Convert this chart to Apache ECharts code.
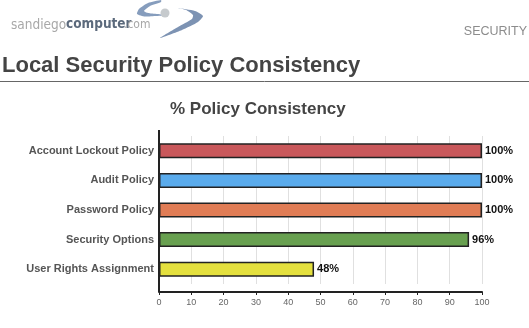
<!DOCTYPE html>
<html>
<head>
<meta charset="utf-8">
<script src="https://cdn.jsdelivr.net/npm/echarts@6/dist/echarts.min.js"></script>
<style>
html,body{margin:0;padding:0;background:#fff;}
#chart{width:529px;height:328px;}
</style>
</head>
<body>
<div id="chart"></div>
<script>
var categories = ['Account Lockout Policy', 'Audit Policy', 'Password Policy', 'Security Options', 'User Rights Assignment'];
var consistency = [100, 100, 100, 96, 48];
var barColors = ['#c9585b', '#5aabec', '#e07c55', '#68a050', '#e4e03e'];
var xTicks = [0, 100, 10];

var myChart = echarts.init(document.getElementById('chart'));

var barData = [];
for (var i = 0; i < consistency.length; i++) {
	barData.push({value: consistency[i], itemStyle: {color: barColors[i]}});
}

var option = {
	backgroundColor: '#fff',
	animation: false,
	title: {
		text: '% Policy Consistency',
		left: 170,
		top: 101,
		padding: 0,
		textStyle: {fontFamily: 'Liberation Sans', fontSize: 17, fontWeight: 'bold', color: '#444'}
	},
	grid: {left: 159, right: 47, top: 136, height: 148, containLabel: false},
	xAxis: {
		type: 'value',
		min: xTicks[0],
		max: xTicks[1],
		interval: xTicks[2],
		offset: 8,
		axisLine: {show: true, lineStyle: {color: '#222', width: 2}},
		axisTick: {show: true, length: 3, lineStyle: {color: '#222'}},
		axisLabel: {fontFamily: 'Liberation Sans', fontSize: 9, color: '#666', margin: 6},
		splitLine: {show: true, lineStyle: {color: '#e0e0e0', width: 1}}
	},
	yAxis: {
		type: 'category',
		inverse: true,
		data: categories,
		axisLine: {show: false},
		axisTick: {show: false},
		axisLabel: {fontFamily: 'Liberation Sans', fontSize: 11, fontWeight: 'bold', color: '#555', margin: 5}
	},
	series: [{
		type: 'bar',
		data: barData,
		barWidth: 15,
		itemStyle: {borderColor: '#222', borderWidth: 1.5},
		label: {
			show: true,
			position: 'right',
			distance: 3,
			formatter: '{c}%',
			fontFamily: 'Liberation Sans',
			fontSize: 11,
			fontWeight: 'bold',
			color: '#111'
		}
	}],
	graphic: [
		// page header: logo
		{type: 'text', left: 11, top: 18, style: {text: 'sandiego', fontFamily: 'DejaVu Sans Condensed', fontSize: 13.5, fill: '#a8a8a8'}},
		{type: 'text', left: 66, top: 17, style: {text: 'computer', fontFamily: 'DejaVu Sans Condensed', fontSize: 13.5, fontWeight: 'bold', fill: '#5c6a7c'}},
		{type: 'text', left: 124, top: 19, style: {text: '.com', fontFamily: 'DejaVu Sans Condensed', fontSize: 12, fill: '#a8a8a8'}},
		{type: 'polygon', shape: {points: [[161, 0], [148, 3], [139, 9], [137, 14], [145, 16.5], [166, 15], [148, 13], [144, 11], [150, 6], [161, 2]], smooth: 0.2}, style: {fill: '#869dbd'}},
		{type: 'polygon', shape: {points: [[178, 8], [195, 11], [203, 16], [198, 22], [182, 30], [160, 38], [178, 27], [192, 19], [193, 15], [186, 10]], smooth: 0.2}, style: {fill: '#7d93b3'}},
		{type: 'circle', shape: {cx: 165, cy: 13, r: 4.5}, style: {fill: '#c6cacd'}},
		{type: 'text', right: 2, top: 25, style: {text: 'SECURITY', fontFamily: 'Liberation Sans', fontSize: 12.5, fill: '#8c8c8c'}},
		// section heading
		{type: 'text', left: 2, top: 55, style: {text: 'Local Security Policy Consistency', fontFamily: 'Liberation Sans', fontSize: 22, fontWeight: 'bold', fill: '#444'}},
		{type: 'line', shape: {x1: 0, y1: 81.5, x2: 529, y2: 81.5}, style: {stroke: '#666', lineWidth: 1}},
		// left axis line spans the whole plot height
		{type: 'line', z: 10, shape: {x1: 159, y1: 130, x2: 159, y2: 292}, style: {stroke: '#222', lineWidth: 2}}
	]
};
myChart.setOption(option);
</script>
</body>
</html>
